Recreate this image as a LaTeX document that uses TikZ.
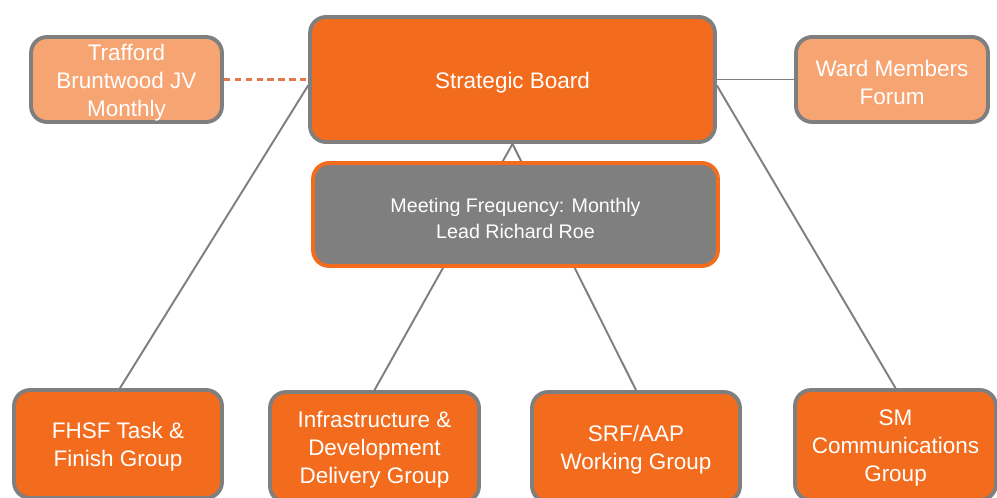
\documentclass[tikz,border=0pt]{standalone}
\usepackage{fontspec}
\setmainfont{Liberation Sans}
\usetikzlibrary{backgrounds}
\definecolor{brandorange}{HTML}{F36C1E}
\definecolor{paleorange}{HTML}{F7A473}
\definecolor{framegray}{HTML}{7F7F7F}
\definecolor{dashorange}{HTML}{E4764A}
\begin{document}
\begin{tikzpicture}[x=0.02cm,y=-0.02cm,
  box/.style={rectangle, rounded corners=0.32cm, line width=2.2pt, inner sep=0pt},
  boxtext/.style={align=center, text=white, inner sep=0pt, yshift=-0.06cm,
    font=\fontsize{12.8}{16}\selectfont},
  infotext/.style={boxtext, yshift=-0.02cm, font=\fontsize{11.2}{14.4}\selectfont},
  mainbox/.style={box, fill=brandorange, draw=framegray},
  sidebox/.style={box, fill=paleorange, draw=framegray},
  infobox/.style={box, fill=framegray, draw=brandorange},
  link/.style={draw=framegray, line width=1.1pt},
  dashlink/.style={color=dashorange, line width=1.25pt, dash pattern=on 3.6pt off 2.6pt}]
\useasboundingbox (0,0) rectangle (997,497);

% top row
\node[sidebox, minimum width=3.82cm, minimum height=1.70cm,
  label={[boxtext]center:{Trafford\\Bruntwood JV\\Monthly}}] (traf) at (126.5,79.5) {};
\node[mainbox, minimum width=8.10cm, minimum height=2.50cm,
  label={[boxtext]center:{Strategic Board}}] (sb) at (512.5,79.5) {};
\node[sidebox, minimum width=3.84cm, minimum height=1.70cm,
  label={[boxtext]center:{Ward Members\\Forum}}] (ward) at (892,79.5) {};

% details of the board
\node[infobox, minimum width=8.10cm, minimum height=2.06cm,
  label={[infotext]center:{Meeting Frequency: Monthly\\Lead Richard Roe}}] (meet) at (515.5,214.5) {};

% working groups
\node[mainbox, minimum width=4.16cm, minimum height=2.16cm,
  label={[boxtext]center:{FHSF Task \&\\Finish Group}}] (fhsf) at (118,444) {};
\node[mainbox, minimum width=4.18cm, minimum height=2.20cm,
  label={[boxtext]center:{Infrastructure \&\\Development\\Delivery Group}}] (infra) at (374.5,447) {};
\node[mainbox, minimum width=4.16cm, minimum height=2.20cm,
  label={[boxtext]center:{SRF/AAP\\Working Group}}] (srf) at (636,447) {};
\node[mainbox, minimum width=4.02cm, minimum height=2.20cm,
  label={[boxtext]center:{SM\\Communications\\Group}}] (sm) at (895.5,445) {};

% white page and connectors behind the boxes
\begin{scope}[on background layer]
  \fill[white] (0,0) rectangle (997,497);
  \draw[dashlink] (traf.east) -- (sb.west);
  \draw[link] (sb.east) -- (ward.west);
  \draw[link] ([xshift=0.04cm]fhsf.north) -- ([yshift=-0.12cm]sb.west);
  \draw[link] (sm.north) -- ([yshift=-0.12cm]sb.east);
  \draw[link] (infra.north) -- (sb.south);
  \draw[link] (srf.north) -- (sb.south);
\end{scope}
\end{tikzpicture}
\end{document}
